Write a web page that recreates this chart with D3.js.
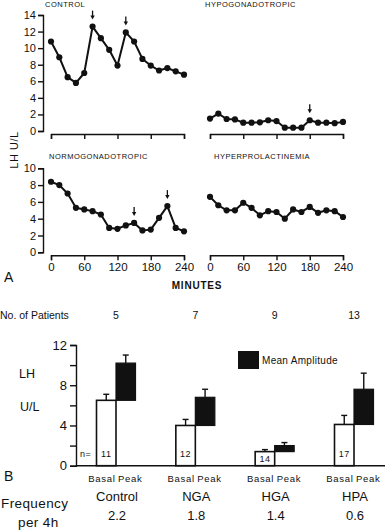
<!DOCTYPE html>
<html><head><meta charset="utf-8">
<script src="https://cdn.jsdelivr.net/npm/d3@7"></script>
<style>
body{margin:0;background:#fff}
svg{display:block;font-family:"Liberation Sans",Arial,sans-serif}
</style></head><body><svg id="chart" width="385" height="530"></svg>
<script>
// Panel A: LH (U/L) every 15 min
const minutes = [0, 15, 30, 45, 60, 75, 90, 105, 120, 135, 150, 165, 180, 195, 210, 225, 240];
const control = [10.8, 8.9, 6.5, 5.8, 7.0, 12.6, 11.2, 9.8, 7.9, 11.9, 10.8, 8.7, 7.9, 7.3, 7.6, 7.2, 6.8];
const hypogonadotropic = [1.5, 2.1, 1.45, 1.4, 1.0, 1.0, 1.05, 1.3, 1.2, 0.4, 0.4, 0.4, 1.3, 1.0, 1.0, 0.95, 1.1];
const normogonadotropic = [8.4, 8.0, 7.0, 5.3, 5.1, 4.9, 4.5, 2.9, 2.8, 3.2, 3.5, 2.6, 2.7, 4.1, 5.5, 2.9, 2.5];
const hyperprolactinemia = [6.6, 5.6, 5.0, 5.0, 5.9, 5.3, 4.4, 4.9, 4.8, 4.0, 5.1, 4.8, 5.4, 4.7, 5.0, 4.9, 4.2];
const controlPeaks = [75, 135];
const hypoPeaks = [180];
const normoPeaks = [150, 210];
const minuteTicks = [0, 60, 120, 180, 240];

// Panel B
const groups = ["Control", "NGA", "HGA", "HPA"];
const patients = [5, 7, 9, 13];
const nPulses = [11, 12, 14, 17];
const basal = [6.5, 4.0, 1.4, 4.1];
const basalTop = [7.1, 4.6, 1.6, 5.0];
const peak = [10.2, 6.8, 2.0, 7.6];
const peakTop = [11.0, 7.6, 2.3, 9.2];
const frequency = ["2.2", "1.8", "1.4", "0.6"];

const svg = d3.select("#chart");

const xLeft = d3.scaleLinear().domain([0, 240]).range([51, 184]);
const xRight = d3.scaleLinear().domain([0, 240]).range([210, 343]);
const yTop = d3.scaleLinear().domain([0, 14]).range([131, 15]);
const yBottom = d3.scaleLinear().domain([0, 10]).range([252.3, 168.3]);

function styleAxis(g, fs) {
    g.selectAll("path, line").attr("stroke", "#111").attr("stroke-width", 1.4);
    g.selectAll("text").attr("fill", "#111").attr("font-size", fs).attr("font-family", "Liberation Sans, Arial, sans-serif");
}

function drawPanel(opts) {
    const { x, y, values, peaks, title, titleX, titleY, yAxis, yTicks, labels } = opts;
    const g = svg.append("g");
    // x axis
    const xa = d3.axisBottom(x).tickValues(minuteTicks).tickSize(5).tickSizeOuter(5).tickPadding(3);
    if (!labels) xa.tickFormat("");
    g.append("g").attr("transform", `translate(0,${y(0) + 3})`).call(xa).call(a => styleAxis(a, 11.5));
    if (yAxis) {
        const ya = d3.axisLeft(y).tickValues(yTicks).tickSize(5).tickSizeOuter(5).tickPadding(2);
        g.append("g").attr("transform", "translate(43,0)").call(ya).call(a => styleAxis(a, 11));
    }
    const line = d3.line().x((d, i) => x(minutes[i])).y(d => y(d));
    g.append("path").datum(values).attr("d", line)
        .attr("fill", "none").attr("stroke", "#111").attr("stroke-width", 2).attr("stroke-linejoin", "round");
    g.selectAll("circle").data(values).join("circle")
        .attr("cx", (d, i) => x(minutes[i])).attr("cy", d => y(d)).attr("r", 3.1).attr("fill", "#111");
    peaks.forEach(t => {
        const px = x(t), py = y(values[minutes.indexOf(t)]);
        g.append("line").attr("x1", px).attr("x2", px).attr("y1", py - 16).attr("y2", py - 10)
            .attr("stroke", "#111").attr("stroke-width", 1.3);
        g.append("path").attr("d", `M${px - 2.2},${py - 11}L${px + 2.2},${py - 11}L${px},${py - 7}Z`).attr("fill", "#111");
    });
    g.append("text").attr("x", titleX).attr("y", titleY).attr("font-size", 7.5)
        .attr("letter-spacing", 0.5).attr("fill", "#111").text(title);
}

drawPanel({ x: xLeft, y: yTop, values: control, peaks: controlPeaks, title: "CONTROL", titleX: 45, titleY: 7,
    yAxis: true, yTicks: [0, 2, 4, 6, 8, 10, 12, 14], labels: false });
drawPanel({ x: xRight, y: yTop, values: hypogonadotropic, peaks: hypoPeaks, title: "HYPOGONADOTROPIC", titleX: 205, titleY: 7,
    yAxis: false, labels: false });
drawPanel({ x: xLeft, y: yBottom, values: normogonadotropic, peaks: normoPeaks, title: "NORMOGONADOTROPIC", titleX: 49, titleY: 159,
    yAxis: true, yTicks: [0, 2, 4, 6, 8, 10], labels: true });
drawPanel({ x: xRight, y: yBottom, values: hyperprolactinemia, peaks: [], title: "HYPERPROLACTINEMIA", titleX: 214, titleY: 159,
    yAxis: false, labels: true });

svg.append("text").attr("transform", "translate(18,150) rotate(-90)").attr("text-anchor", "middle")
    .attr("font-size", 11).attr("letter-spacing", 0.5).attr("fill", "#111").text("LH  U/L");
svg.append("text").attr("x", 197).attr("y", 289).attr("text-anchor", "middle").attr("font-size", 10)
    .attr("font-weight", "bold").attr("letter-spacing", 0.8).attr("fill", "#111").text("MINUTES");
svg.append("text").attr("x", 4).attr("y", 282).attr("font-size", 14).attr("fill", "#111").text("A");

// ---- Panel B ----
const gx = d3.scalePoint().domain(groups).range([116, 354]);
const yb = d3.scaleLinear().domain([0, 12]).range([465.7, 345]);
const bw = 19.5;
const B = svg.append("g");

svg.append("text").attr("x", 0).attr("y", 319).attr("font-size", 10.5).attr("fill", "#111").text("No. of Patients");
svg.selectAll(".npat").data(patients).join("text").attr("class", "npat")
    .attr("x", (d, i) => gx(groups[i])).attr("y", 319).attr("text-anchor", "middle")
    .attr("font-size", 10.5).attr("fill", "#111").text(d => d);

const yAxisB = d3.axisLeft(yb).tickValues([0, 2, 4, 6, 8, 10, 12]).tickSize(6).tickSizeOuter(6).tickPadding(3)
    .tickFormat(d => d % 4 === 0 ? d : "");
B.append("g").attr("transform", "translate(76,0)").call(yAxisB).call(a => styleAxis(a, 13));
B.append("line").attr("x1", 76).attr("x2", 385).attr("y1", yb(0)).attr("y2", yb(0))
    .attr("stroke", "#111").attr("stroke-width", 1.6);

// basal bars (white)
B.selectAll(".basal").data(basal).join("rect").attr("class", "basal")
    .attr("x", (d, i) => gx(groups[i]) - bw).attr("width", bw)
    .attr("y", d => yb(d)).attr("height", d => yb(0) - yb(d))
    .attr("fill", "#fff").attr("stroke", "#111").attr("stroke-width", 1.6);
// peak bars (black, start at basal level)
B.selectAll(".peak").data(peak).join("rect").attr("class", "peak")
    .attr("x", (d, i) => gx(groups[i])).attr("width", bw)
    .attr("y", d => yb(d)).attr("height", (d, i) => yb(basal[i]) - yb(d))
    .attr("fill", "#111").attr("stroke", "#111").attr("stroke-width", 1.2);

function errorBars(tops, bases, dx) {
    tops.forEach((t, i) => {
        const cx = gx(groups[i]) + dx;
        B.append("line").attr("x1", cx).attr("x2", cx).attr("y1", yb(bases[i])).attr("y2", yb(t))
            .attr("stroke", "#111").attr("stroke-width", 1.4);
        B.append("line").attr("x1", cx - 3).attr("x2", cx + 3).attr("y1", yb(t)).attr("y2", yb(t))
            .attr("stroke", "#111").attr("stroke-width", 1.4);
    });
}
errorBars(basalTop, basal, -bw / 2);
errorBars(peakTop, peak, bw / 2);

B.selectAll(".ncount").data(nPulses).join("text").attr("class", "ncount")
    .attr("x", (d, i) => gx(groups[i]) - bw / 2).attr("y", (d, i) => Math.max(457, (yb(basal[i]) + yb(0)) / 2 + 3))
    .attr("text-anchor", "middle").attr("letter-spacing", 0.5)
    .attr("font-size", 9).attr("fill", "#111").text(d => d);
B.append("text").attr("x", 80).attr("y", 457).attr("font-size", 9).attr("letter-spacing", 0.4).attr("fill", "#111").text("n=");

groups.forEach((grp, i) => {
    const c = gx(grp);
    B.append("text").attr("x", c - 0.5).attr("y", 482).attr("text-anchor", "end").attr("letter-spacing", 0.7)
        .attr("font-size", 9.5).attr("fill", "#111").text("Basal");
    B.append("text").attr("x", c + 2).attr("y", 482).attr("letter-spacing", 0.7)
        .attr("font-size", 9.5).attr("fill", "#111").text("Peak");
    B.append("text").attr("x", c + 1).attr("y", 501).attr("text-anchor", "middle")
        .attr("font-size", 13).attr("fill", "#111").text(grp);
    B.append("text").attr("x", c + 1).attr("y", 520).attr("text-anchor", "middle")
        .attr("font-size", 13).attr("fill", "#111").text(frequency[i]);
});

B.append("text").attr("x", 19).attr("y", 378).attr("font-size", 12.5).attr("fill", "#111").text("LH");
B.append("text").attr("x", 20).attr("y", 411).attr("font-size", 12.5).attr("fill", "#111").text("U/L");
B.append("text").attr("x", 4).attr("y", 481).attr("font-size", 14).attr("fill", "#111").text("B");
B.append("text").attr("x", 1).attr("y", 508).attr("font-size", 13.5).attr("letter-spacing", 0.4).attr("fill", "#111").text("Frequency");
B.append("text").attr("x", 18).attr("y", 527).attr("font-size", 13.5).attr("letter-spacing", 0.4).attr("fill", "#111").text("per 4h");

// legend
B.append("rect").attr("x", 238).attr("y", 351).attr("width", 21).attr("height", 18).attr("fill", "#111");
B.append("text").attr("x", 262).attr("y", 364).attr("font-size", 10).attr("letter-spacing", 0.3)
    .attr("fill", "#111").text("Mean Amplitude");
</script></body></html>
